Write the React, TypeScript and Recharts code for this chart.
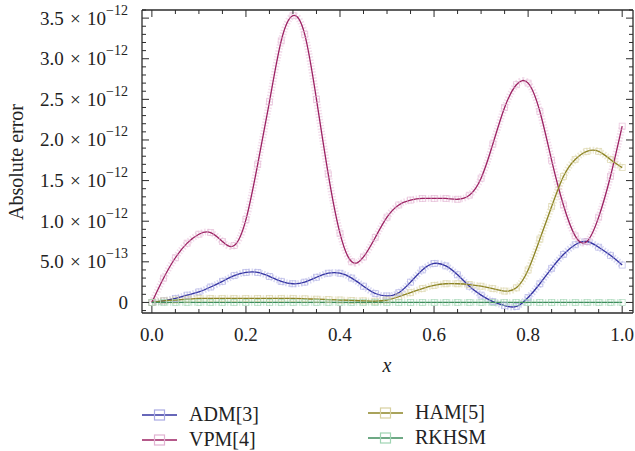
import React from 'react';
import { LineChart, Line, XAxis, YAxis } from 'recharts';

// absolute errors, in units of 1e-12
const xValues = [
    0, 0.025, 0.05, 0.075, 0.1, 0.125, 0.15, 0.175, 0.2, 0.225, 0.25, 0.275, 0.3, 0.325,
    0.35, 0.375, 0.4, 0.425, 0.45, 0.475, 0.5, 0.525, 0.55, 0.575, 0.6, 0.625, 0.65,
    0.675, 0.7, 0.725, 0.75, 0.775, 0.8, 0.825, 0.85, 0.875, 0.9, 0.925, 0.95, 0.975, 1,
];
const admErr = [
    0, 0.02, 0.05, 0.09, 0.13, 0.19, 0.26, 0.33, 0.37, 0.37, 0.32, 0.26, 0.23, 0.25,
    0.31, 0.36, 0.36, 0.3, 0.2, 0.11, 0.08, 0.12, 0.25, 0.4, 0.48, 0.45, 0.34,
    0.2, 0.09, 0.01, -0.04, -0.05, 0.06, 0.23, 0.42, 0.59, 0.71, 0.75, 0.68, 0.58, 0.46,
];
const vpmErr = [
    0, 0.3, 0.55, 0.73, 0.84, 0.86, 0.75, 0.7, 1.02, 1.7, 2.47, 3.22, 3.53, 3.3,
    2.5, 1.58, 0.85, 0.5, 0.56, 0.8, 1.05, 1.2, 1.26, 1.28, 1.28, 1.28, 1.27,
    1.32, 1.53, 1.95, 2.4, 2.68, 2.7, 2.35, 1.75, 1.2, 0.82, 0.75, 1.05, 1.55, 2.17,
];
const hamErr = [
    0, 0.02, 0.03, 0.04, 0.05, 0.05, 0.05, 0.05, 0.05, 0.05, 0.05, 0.05, 0.05, 0.045,
    0.04, 0.035, 0.03, 0.025, 0.02, 0.015, 0.03, 0.07, 0.12, 0.17, 0.21, 0.23, 0.23,
    0.22, 0.2, 0.17, 0.14, 0.18, 0.4, 0.78, 1.18, 1.55, 1.76, 1.86, 1.86, 1.76, 1.66,
];
const rkhsmErr = [
    0, 0, 0, 0, 0, 0, 0, 0, 0, 0, 0, 0, 0, 0, 0, 0, 0, 0, 0, 0, 0, 0, 0, 0, 0, 0, 0,
    0, 0, 0, 0, 0, 0, 0, 0, 0, 0, 0, 0, 0, 0,
];

const xTicks = [
    0, 0.05, 0.1, 0.15, 0.2, 0.25, 0.3, 0.35, 0.4, 0.45, 0.5, 0.55, 0.6, 0.65, 0.7, 0.75,
    0.8, 0.85, 0.9, 0.95, 1,
];
const xMajor = [0, 0.2, 0.4, 0.6, 0.8, 1];
const xMajorLabels = ['0.0', '0.2', '0.4', '0.6', '0.8', '1.0'];

const yTicks = [
    -0.1, 0, 0.1, 0.2, 0.3, 0.4, 0.5, 0.6, 0.7, 0.8, 0.9, 1, 1.1, 1.2, 1.3, 1.4, 1.5, 1.6,
    1.7, 1.8, 1.9, 2, 2.1, 2.2, 2.3, 2.4, 2.5, 2.6, 2.7, 2.8, 2.9, 3, 3.1, 3.2, 3.3, 3.4,
    3.5, 3.6,
];
const yMajor = [0, 0.5, 1, 1.5, 2, 2.5, 3, 3.5];
const yMantissa = ['0', '5.0', '1.0', '1.5', '2.0', '2.5', '3.0', '3.5'];
const yExponent = ['', '−13', '−12', '−12', '−12', '−12', '−12', '−12'];

const series = [
    { key: 'adm', name: 'ADM[3]', line: '#3434a2', marker: '#a9a9e3' },
    { key: 'vpm', name: 'VPM[4]', line: '#9c2263', marker: '#e2b3d2' },
    { key: 'ham', name: 'HAM[5]', line: '#8d8424', marker: '#d7d09f' },
    { key: 'rkhsm', name: 'RKHSM', line: '#3e8d5c', marker: '#9fd4b2' },
];

const data = xValues.map((x, i) => ({
    x,
    adm: admErr[i],
    vpm: vpmErr[i],
    ham: hamErr[i],
    rkhsm: rkhsmErr[i],
}));

const FONT = '"Liberation Serif", "DejaVu Serif", serif';
const FRAME = '#2b2b2b';

const majorIndex = (list: number[], v: number) => list.findIndex(m => Math.abs(m - v) < 1e-6);

const BottomTick = (props: any) => {
    const { x, y, payload } = props;
    const i = majorIndex(xMajor, payload.value);
    const len = i >= 0 ? 7 : 4;
    return (
        <g>
            <line x1={x} y1={y} x2={x} y2={y - len} stroke={FRAME} strokeWidth={1} />
            {i >= 0 && (
                <text x={x} y={y + 28} textAnchor="middle" fontFamily={FONT} fontSize={19} fill="#222">
                    {xMajorLabels[i]}
                </text>
            )}
        </g>
    );
};

const TopTick = (props: any) => {
    const { x, y, payload } = props;
    const len = majorIndex(xMajor, payload.value) >= 0 ? 7 : 4;
    return <line x1={x} y1={y} x2={x} y2={y + len} stroke={FRAME} strokeWidth={1} />;
};

const LeftTick = (props: any) => {
    const { x, y, payload } = props;
    const i = majorIndex(yMajor, payload.value);
    const len = i >= 0 ? 7 : 4;
    return (
        <g>
            <line x1={x} y1={y} x2={x + len} y2={y} stroke={FRAME} strokeWidth={1} />
            {i >= 0 && (
                <text x={x - 14} y={y + 6.5} textAnchor="end" fontFamily={FONT} fontSize={19} fill="#222">
                    {yMantissa[i] + (yExponent[i] ? '\u2004×\u200410' : '')}
                    {yExponent[i] && (
                        <tspan dy={-10} fontSize={14}>{yExponent[i]}</tspan>
                    )}
                </text>
            )}
        </g>
    );
};

const RightTick = (props: any) => {
    const { x, y, payload } = props;
    const len = majorIndex(yMajor, payload.value) >= 0 ? 7 : 4;
    return <line x1={x} y1={y} x2={x - len} y2={y} stroke={FRAME} strokeWidth={1} />;
};

const squareDot = (color: string) => (props: any) => {
    const { cx, cy, index } = props;
    if (cx == null || cy == null) return <g key={`e-${index}`} />;
    return (
        <rect
            key={`d-${index}`}
            x={cx - 3}
            y={cy - 3}
            width={6}
            height={6}
            fill="none"
            stroke={color}
            strokeOpacity={0.7}
            strokeWidth={0.8}
        />
    );
};

const LegendIcon = ({ line, marker }: { line: string; marker: string }) => (
    <svg width={36} height={14} style={{ display: 'block' }}>
        <line x1={0} y1={7} x2={35} y2={7} stroke={line} strokeWidth={1.4} />
        <rect x={12.5} y={2} width={10} height={10} fill="none" stroke={marker} strokeWidth={1.2} />
    </svg>
);

export default function App() {
    const legendPos = [
        { left: 142, top: 403 },
        { left: 142, top: 428 },
        { left: 368, top: 401 },
        { left: 368, top: 426 },
    ];

    return (
        <div style={{ position: 'absolute', left: 0, top: 0, width: 635, height: 451, background: '#fff' }}>
            <LineChart
                width={635}
                height={451}
                data={data}
                margin={{ top: 9, right: 1, bottom: 137, left: 141 }}
            >
                <XAxis
                    xAxisId="b"
                    dataKey="x"
                    type="number"
                    domain={[-0.021, 1.023]}
                    allowDataOverflow
                    ticks={xTicks}
                    interval={0}
                    height={1}
                    tickSize={0}
                    tickMargin={0}
                    tickLine={false}
                    axisLine={{ stroke: FRAME, strokeWidth: 1.3 }}
                    tick={BottomTick}
                />
                <XAxis
                    xAxisId="t"
                    orientation="top"
                    dataKey="x"
                    type="number"
                    domain={[-0.021, 1.023]}
                    allowDataOverflow
                    ticks={xTicks}
                    interval={0}
                    height={1}
                    tickSize={0}
                    tickMargin={0}
                    tickLine={false}
                    axisLine={{ stroke: FRAME, strokeWidth: 1.3 }}
                    tick={TopTick}
                />
                <YAxis
                    yAxisId="l"
                    type="number"
                    domain={[-0.13, 3.6]}
                    allowDataOverflow
                    ticks={yTicks}
                    interval={0}
                    width={1}
                    tickSize={0}
                    tickMargin={0}
                    tickLine={false}
                    axisLine={{ stroke: FRAME, strokeWidth: 1.3 }}
                    tick={LeftTick}
                />
                <YAxis
                    yAxisId="r"
                    orientation="right"
                    type="number"
                    domain={[-0.13, 3.6]}
                    allowDataOverflow
                    ticks={yTicks}
                    interval={0}
                    width={1}
                    tickSize={0}
                    tickMargin={0}
                    tickLine={false}
                    axisLine={{ stroke: FRAME, strokeWidth: 1.3 }}
                    tick={RightTick}
                />
                {series.map(s => (
                    <Line
                        key={`halo-${s.key}`}
                        xAxisId="b"
                        yAxisId="l"
                        dataKey={s.key}
                        type="natural"
                        stroke={s.marker}
                        strokeWidth={7}
                        strokeOpacity={0.45}
                        strokeDasharray="1.5 1.5"
                        dot={false}
                        activeDot={false}
                        legendType="none"
                        isAnimationActive={false}
                    />
                ))}
                {series.map(s => (
                    <Line
                        key={s.key}
                        xAxisId="b"
                        yAxisId="l"
                        dataKey={s.key}
                        name={s.name}
                        type="natural"
                        stroke={s.line}
                        strokeWidth={1.3}
                        dot={squareDot(s.marker)}
                        activeDot={false}
                        isAnimationActive={false}
                    />
                ))}
            </LineChart>

            <div
                style={{
                    position: 'absolute',
                    left: 2,
                    top: 147,
                    width: 36,
                    height: 30,
                    transform: 'rotate(-90deg)',
                    transformOrigin: 'center',
                }}
            >
                <div
                    style={{
                        position: 'absolute',
                        left: -52,
                        top: 0,
                        width: 140,
                        textAlign: 'center',
                        fontFamily: FONT,
                        fontSize: 20,
                        color: '#222',
                        whiteSpace: 'nowrap',
                    }}
                >
                    Absolute error
                </div>
            </div>

            <div
                style={{
                    position: 'absolute',
                    left: 377,
                    top: 354,
                    width: 20,
                    textAlign: 'center',
                    fontFamily: FONT,
                    fontStyle: 'italic',
                    fontSize: 20,
                    color: '#222',
                }}
            >
                x
            </div>

            {series.map((s, i) => (
                <div
                    key={`leg-${s.key}`}
                    style={{
                        position: 'absolute',
                        left: legendPos[i].left,
                        top: legendPos[i].top,
                        display: 'flex',
                        alignItems: 'center',
                        fontFamily: FONT,
                        fontSize: 20,
                        color: '#222',
                        whiteSpace: 'nowrap',
                    }}
                >
                    <LegendIcon line={s.line} marker={s.marker} />
                    <span style={{ marginLeft: 11 }}>{s.name}</span>
                </div>
            ))}
        </div>
    );
}
